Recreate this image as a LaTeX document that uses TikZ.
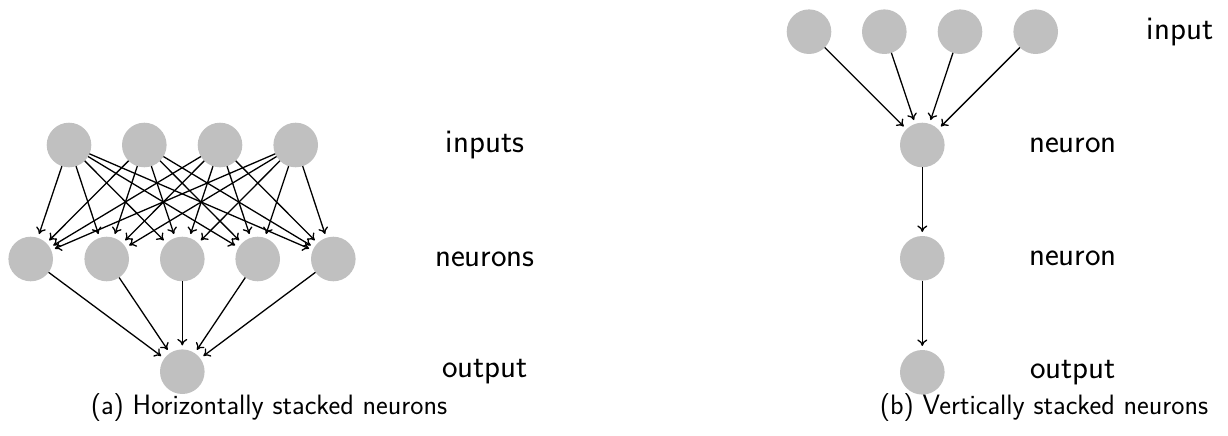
\documentclass[tikz,border=0pt]{standalone}
\usepackage{fontspec}
\usetikzlibrary{arrows.meta}
\definecolor{nodegray}{RGB}{192,192,192}
\begin{document}
\begin{tikzpicture}[x=1pt,y=-1pt,
  neur/.style={circle,fill=nodegray,minimum size=44.6pt,inner sep=0pt,outer sep=0pt},
  lab/.style={font=\sffamily\fontsize{33}{38}\selectfont,inner sep=0pt},
  captext/.style={font=\sffamily\fontsize{28}{33}\selectfont,inner sep=0pt},
  conn/.style={-{To[length=6.5pt,width=10pt]},line width=1.3pt,shorten >=4pt}]
\useasboundingbox (0,0) rectangle (1228,436);
% left diagram
\foreach \i/\x in {1/69,2/144.3,3/220,4/295.7}
  \node[neur] (a\i) at (\x,145) {};
\foreach \j/\x in {1/30.7,2/106.7,3/182.3,4/257.7,5/333.3}
  \node[neur] (b\j) at (\x,259) {};
\node[neur] (ao) at (182.3,371.7) {};
\foreach \i in {1,...,4}
  \foreach \j in {1,...,5}
    \draw[conn] (a\i) -- (b\j);
\foreach \j in {1,...,5}
  \draw[conn] (b\j) -- (ao);
\node[lab] (l1) at (485,145) {inputs};
\node[lab] (l2) at (485,259) {neurons};
\node[lab] (l3) at (485,371.7) {output};
\node[captext] (ca) at (269,408) {(a) Horizontally stacked neurons};
% right diagram
\foreach \i/\x in {1/809,2/884.3,3/960,4/1035.7}
  \node[neur] (c\i) at (\x,31.7) {};
\node[neur] (n1) at (922.3,145) {};
\node[neur] (n2) at (922.3,258.3) {};
\node[neur] (no) at (922.3,372.3) {};
\foreach \i in {1,...,4}
  \draw[conn] (c\i) -- (n1);
\draw[conn] (n1) -- (n2);
\draw[conn] (n2) -- (no);
\node[lab] (r0) at (1180,31.7) {input};
\node[lab] (r1) at (1073,145) {neuron};
\node[lab] (r2) at (1073,258.3) {neuron};
\node[lab] (r3) at (1073,372.3) {output};
\node[captext] (cb) at (1044,408) {(b) Vertically stacked neurons};
\end{tikzpicture}
\end{document}
